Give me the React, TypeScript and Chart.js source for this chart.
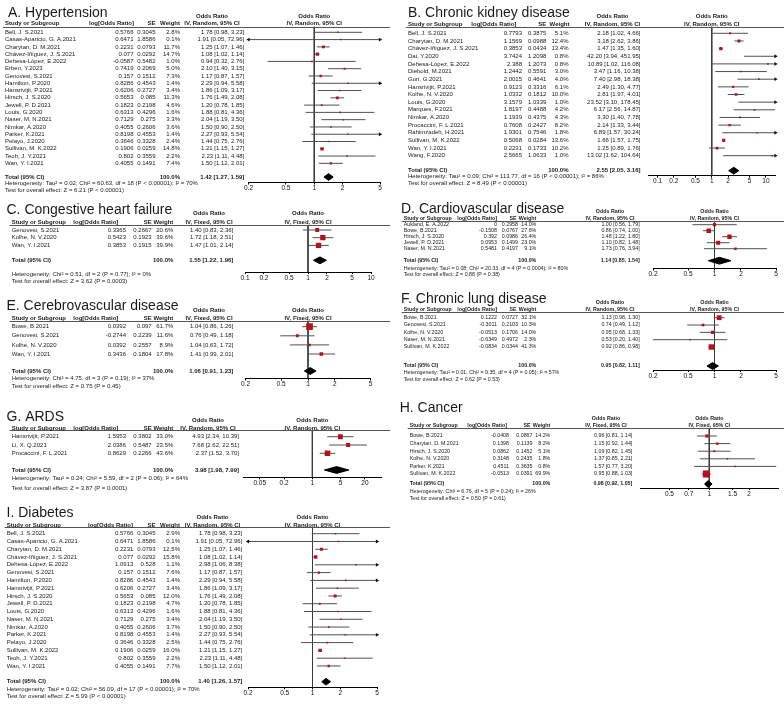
import React, { useEffect, useRef } from "react";
import { Chart, registerables } from "chart.js";
Chart.register(...registerables);

const FONT = '"Liberation Sans", Arial, Helvetica, sans-serif';
const RED = "#b3121a";
const AXH = 11;

// ---------------- A. Hypertension ----------------
const A_studies = ["Bell, J. S.2021", "Casas-Aparicio, G. A.2021", "Charytan, D. M.2021", "Chávez-Iñiguez, J. S.2021", "Dehesa-López, E.2022", "Erben, Y.2023", "Genovesi, S.2021", "Hamilton, P.2020", "Hansrivijit, P.2021", "Hirsch, J. S.2020", "Jewell, P. D.2021", "Louis, G.2020", "Naser, M. N.2021", "Nimkar, A.2020", "Parker, K.2021", "Pelayo, J.2020", "Sullivan, M. K.2022", "Teoh, J. Y.2021", "Wan, Y. I.2021"];
const A_logOR = [0.5766, 0.6471, 0.2231, 0.077, -0.0587, 0.7419, 0.157, 0.8286, 0.6206, 0.5653, 0.1823, 0.6313, 0.7129, 0.4055, 0.8198, 0.3646, 0.1906, 0.802, 0.4055];
const A_se = [0.3045, 1.8586, 0.0793, 0.0292, 0.5482, 0.2069, 0.1512, 0.4543, 0.2727, 0.085, 0.2198, 0.4296, 0.275, 0.2606, 0.4553, 0.3328, 0.0259, 0.3559, 0.1491];
const A_weight = [2.8, 0.1, 11.7, 14.7, 1.0, 5.0, 7.3, 1.4, 3.4, 11.3, 4.6, 1.6, 3.3, 3.6, 1.4, 2.4, 14.8, 2.2, 7.4];
const A_or = [1.78, 1.91, 1.25, 1.08, 0.94, 2.10, 1.17, 2.29, 1.86, 1.76, 1.20, 1.88, 2.04, 1.50, 2.27, 1.44, 1.21, 2.23, 1.50];
const A_lo = [0.98, 0.05, 1.07, 1.02, 0.32, 1.40, 0.87, 0.94, 1.09, 1.49, 0.78, 0.81, 1.19, 0.90, 0.93, 0.75, 1.15, 1.11, 1.12];
const A_hi = [3.23, 72.96, 1.46, 1.14, 2.76, 3.15, 1.57, 5.58, 3.17, 2.08, 1.85, 4.36, 3.50, 2.50, 5.54, 2.76, 1.27, 4.48, 2.01];
const A_total = [1.42, 1.27, 1.59];
const A_ticks = [0.2, 0.5, 1, 2, 5];
const A_het = "Heterogeneity: Tau² = 0.02; Chi² = 60.63, df = 18 (P < 0.00001); I² = 70%";
const A_test = "Test for overall effect: Z = 6.21 (P < 0.00001)";

// ---------------- B. Chronic kidney disease ----------------
const B_studies = ["Bell, J. S.2021", "Charytan, D. M.2021", "Chávez-Iñiguez, J. S.2021", "Dai, Y.2020", "Dehesa-López, E.2022", "Diebold, M.2021", "Gori, G.2021", "Hansrivijit, P.2021", "Kolhe, N. V.2020", "Louis, G.2020", "Marques, F.2021", "Nimkar, A.2020", "Procaccini, F. L.2021", "Rahimzadeh, H.2021", "Sullivan, M. K.2022", "Wan, Y. I.2021", "Wang, F.2020"];
const B_logOR = [0.7793, 1.1569, 0.3853, 3.7424, 2.388, 1.2442, 2.0015, 0.9123, 1.0332, 3.1579, 1.8197, 1.1939, 0.7608, 1.9301, 0.5068, 0.2231, 2.5665];
const B_se = [0.3875, 0.0988, 0.0434, 1.2098, 1.2073, 0.5591, 0.4641, 0.3316, 0.1812, 1.0339, 0.4488, 0.4375, 0.2427, 0.7546, 0.0284, 0.1733, 1.0633];
const B_weight = [5.1, 12.4, 13.4, 0.8, 0.8, 3.0, 4.0, 6.1, 10.0, 1.0, 4.2, 4.3, 8.2, 1.8, 13.6, 10.2, 1.0];
const B_or = [2.18, 3.18, 1.47, 42.20, 10.89, 3.47, 7.40, 2.49, 2.81, 23.52, 6.17, 3.30, 2.14, 6.89, 1.66, 1.25, 13.02];
const B_lo = [1.02, 2.62, 1.35, 3.94, 1.02, 1.16, 2.98, 1.30, 1.97, 3.10, 2.56, 1.40, 1.33, 1.57, 1.57, 0.89, 1.62];
const B_hi = [4.66, 3.86, 1.60, 451.95, 116.08, 10.38, 18.38, 4.77, 4.01, 178.45, 14.87, 7.78, 3.44, 30.24, 1.75, 1.76, 104.64];
const B_total = [2.55, 2.05, 3.16];
const B_ticks = [0.1, 0.2, 0.5, 1, 2, 5, 10];
const B_het = "Heterogeneity: Tau² = 0.09; Chi² = 113.77, df = 16 (P < 0.00001); I² = 86%";
const B_test = "Test for overall effect: Z = 8.49 (P < 0.00001)";

// ---------------- C. Congestive heart failure ----------------
const C_studies = ["Genovesi, S.2021", "Kolhe, N. V.2020", "Wan, Y. I.2021"];
const C_logOR = [0.3365, 0.5423, 0.3853];
const C_se = [0.2667, 0.1923, 0.1915];
const C_weight = [20.6, 39.6, 39.9];
const C_or = [1.40, 1.72, 1.47];
const C_lo = [0.83, 1.18, 1.01];
const C_hi = [2.36, 2.51, 2.14];
const C_total = [1.55, 1.22, 1.96];
const C_ticks = [0.1, 0.2, 0.5, 1, 2, 5, 10];
const C_het = "Heterogeneity: Chi² = 0.51, df = 2 (P = 0.77); I² = 0%";
const C_test = "Test for overall effect: Z = 3.62 (P = 0.0003)";

// ---------------- D. Cardiovascular disease ----------------
const D_studies = ["Aukland, E. A.2022", "Bowe, B.2021", "Hirsch, J. S.2020", "Jewell, P. D.2021", "Naser, M. N.2021"];
const D_logOR = [0, -0.1508, 0.392, 0.0953, 0.5481];
const D_se = [0.2958, 0.0767, 0.0986, 0.1499, 0.4197];
const D_weight = [14.0, 27.6, 26.4, 23.0, 9.1];
const D_or = [1.00, 0.86, 1.48, 1.10, 1.73];
const D_lo = [0.56, 0.74, 1.22, 0.82, 0.76];
const D_hi = [1.79, 1.00, 1.80, 1.48, 3.94];
const D_total = [1.14, 0.85, 1.54];
const D_ticks = [0.2, 0.5, 1, 2, 5];
const D_het = "Heterogeneity: Tau² = 0.08; Chi² = 20.33, df = 4 (P = 0.0004); I² = 80%";
const D_test = "Test for overall effect: Z = 0.88 (P = 0.38)";

// ---------------- E. Cerebrovascular disease ----------------
const E_studies = ["Bowe, B.2021", "Genovesi, S.2021", "Kolhe, N. V.2020", "Wan, Y. I.2021"];
const E_logOR = [0.0392, -0.2744, 0.0392, 0.3436];
const E_se = [0.097, 0.2239, 0.2557, 0.1804];
const E_weight = [61.7, 11.6, 8.9, 17.8];
const E_or = [1.04, 0.76, 1.04, 1.41];
const E_lo = [0.86, 0.49, 0.63, 0.99];
const E_hi = [1.26, 1.18, 1.72, 2.01];
const E_total = [1.06, 0.91, 1.23];
const E_ticks = [0.2, 0.5, 1, 2, 5];
const E_het = "Heterogeneity: Chi² = 4.75, df = 3 (P = 0.19); I² = 37%";
const E_test = "Test for overall effect: Z = 0.75 (P = 0.45)";

// ---------------- F. Chronic lung disease ----------------
const F_studies = ["Bowe, B.2021", "Genovesi, S.2021", "Kolhe, N. V.2020", "Naser, M. N.2021", "Sullivan, M. K.2022"];
const F_logOR = [0.1222, -0.3011, -0.0513, -0.6349, -0.0834];
const F_se = [0.0727, 0.2103, 0.1706, 0.4972, 0.0344];
const F_weight = [32.1, 10.3, 14.0, 2.3, 41.3];
const F_or = [1.13, 0.74, 0.95, 0.53, 0.92];
const F_lo = [0.98, 0.49, 0.68, 0.20, 0.86];
const F_hi = [1.30, 1.12, 1.33, 1.40, 0.98];
const F_total = [0.95, 0.82, 1.11];
const F_ticks = [0.2, 0.5, 1, 2, 5];
const F_het = "Heterogeneity: Tau² = 0.01; Chi² = 9.35, df = 4 (P = 0.05); I² = 57%";
const F_test = "Test for overall effect: Z = 0.62 (P = 0.53)";

// ---------------- G. ARDS ----------------
const G_studies = ["Hansrivijit, P.2021", "Li, X. Q.2021", "Procaccini, F. L.2021"];
const G_logOR = [1.5953, 2.0386, 0.8629];
const G_se = [0.3802, 0.5487, 0.2266];
const G_weight = [33.0, 23.5, 43.6];
const G_or = [4.93, 7.68, 2.37];
const G_lo = [2.34, 2.62, 1.52];
const G_hi = [10.39, 22.51, 3.70];
const G_total = [3.98, 1.98, 7.99];
const G_ticks = [0.05, 0.2, 1, 5, 20];
const G_het = "Heterogeneity: Tau² = 0.24; Chi² = 5.59, df = 2 (P = 0.06); I² = 64%";
const G_test = "Test for overall effect: Z = 3.87 (P = 0.0001)";

// ---------------- H. Cancer ----------------
const H_studies = ["Bowe, B.2021", "Charytan, D. M.2021", "Hirsch, J. S.2020", "Kolhe, N. V.2020", "Parker, K.2021", "Sullivan, M. K.2022"];
const H_logOR = [-0.0408, 0.1398, 0.0862, 0.3148, 0.4511, -0.0513];
const H_se = [0.0867, 0.1139, 0.1452, 0.2435, 0.3635, 0.0391];
const H_weight = [14.2, 8.2, 5.1, 1.8, 0.8, 69.9];
const H_or = [0.96, 1.15, 1.09, 1.37, 1.57, 0.95];
const H_lo = [0.81, 0.92, 0.82, 0.85, 0.77, 0.88];
const H_hi = [1.14, 1.44, 1.45, 2.21, 3.20, 1.03];
const H_total = [0.98, 0.92, 1.05];
const H_ticks = [0.5, 0.7, 1, 1.5, 2];
const H_het = "Heterogeneity: Chi² = 6.76, df = 5 (P = 0.24); I² = 26%";
const H_test = "Test for overall effect: Z = 0.50 (P = 0.61)";

// ---------------- I. Diabetes ----------------
const I_studies = ["Bell, J. S.2021", "Casas-Aparicio, G. A.2021", "Charytan, D. M.2021", "Chávez-Iñiguez, J. S.2021", "Dehesa-López, E.2022", "Genovesi, S.2021", "Hamilton, P.2020", "Hansrivijit, P.2021", "Hirsch, J. S.2020", "Jewell, P. D.2021", "Louis, G.2020", "Naser, M. N.2021", "Nimkar, A.2020", "Parker, K.2021", "Pelayo, J.2020", "Sullivan, M. K.2022", "Teoh, J. Y.2021", "Wan, Y. I.2021"];
const I_logOR = [0.5766, 0.6471, 0.2231, 0.077, 1.0913, 0.157, 0.8286, 0.6206, 0.5653, 0.1823, 0.6313, 0.7129, 0.4055, 0.8198, 0.3646, 0.1906, 0.802, 0.4055];
const I_se = [0.3045, 1.8586, 0.0793, 0.0292, 0.528, 0.1512, 0.4543, 0.2727, 0.085, 0.2198, 0.4296, 0.275, 0.2606, 0.4553, 0.3328, 0.0259, 0.3559, 0.1491];
const I_weight = [2.9, 0.1, 12.5, 15.8, 1.1, 7.6, 1.4, 3.4, 12.0, 4.7, 1.6, 3.4, 3.7, 1.4, 2.5, 16.0, 2.2, 7.7];
const I_or = [1.78, 1.91, 1.25, 1.08, 2.98, 1.17, 2.29, 1.86, 1.76, 1.20, 1.88, 2.04, 1.50, 2.27, 1.44, 1.21, 2.23, 1.50];
const I_lo = [0.98, 0.05, 1.07, 1.02, 1.06, 0.87, 0.94, 1.09, 1.49, 0.78, 0.81, 1.19, 0.90, 0.93, 0.75, 1.15, 1.11, 1.12];
const I_hi = [3.23, 72.96, 1.46, 1.14, 8.38, 1.57, 5.58, 3.17, 2.08, 1.85, 4.36, 3.50, 2.50, 5.54, 2.76, 1.27, 4.48, 2.01];
const I_total = [1.40, 1.26, 1.57];
const I_ticks = [0.2, 0.5, 1, 2, 5];
const I_het = "Heterogeneity: Tau² = 0.02; Chi² = 56.09, df = 17 (P < 0.00001); I² = 70%";
const I_test = "Test for overall effect: Z = 5.99 (P < 0.00001)";

// ---------------- layout (page pixel positions) ----------------
type Lay = {
  x0: number; W: number; fs: number; titleX: number; titleBase: number; hdr1Y: number; hdr2Y: number; lineY: number;
  studyX: number; logHR: number; logR: number; seHR: number; seR: number; wHR: number; wR: number; orHC: number; orR: number;
  plotL: number; plotR: number; xmin: number; xmax: number;
  firstY: number; rowH: number; totalY: number; axisY: number; hetY: number; testY: number;
};

const LAY_A: Lay = { x0: 0, W: 390, fs: 6, titleX: 8, titleBase: 17.3, hdr1Y: 16.7, hdr2Y: 23.8, lineY: 26.5, studyX: 5, logHR: 134, logR: 133.5, seHR: 155.5, seR: 155.5, wHR: 180, wR: 180, orHC: 212, orR: 244.3, plotL: 248.5, plotR: 380, xmin: 0.2, xmax: 5, firstY: 32.3, rowH: 7.28, totalY: 177, axisY: 182.5, hetY: 183.7, testY: 190.5 };
const LAY_B: Lay = { x0: 393, W: 391, fs: 6, titleX: 408, titleBase: 17.3, hdr1Y: 16.7, hdr2Y: 24.3, lineY: 26.5, studyX: 408, logHR: 516.3, logR: 522, seHR: 546.3, seR: 546.3, wHR: 569.5, wR: 568.5, orHC: 612.5, orR: 640.5, plotL: 648, plotR: 775.5, xmin: 1 / 15, xmax: 15, firstY: 33.3, rowH: 7.65, totalY: 170.7, axisY: 175.7, hetY: 176.7, testY: 183 };
const LAY_C: Lay = { x0: 0, W: 390, fs: 6, titleX: 6.5, titleBase: 213.5, hdr1Y: 213.3, hdr2Y: 222.5, lineY: 224.8, studyX: 11.7, logHR: 118.3, logR: 126, seHR: 151.7, seR: 151.7, wHR: 173.3, wR: 173.3, orHC: 209, orR: 233.3, plotL: 245, plotR: 371, xmin: 0.1, xmax: 10, firstY: 230, rowH: 7.7, totalY: 260.3, axisY: 272, hetY: 274, testY: 281.7 };
const LAY_D: Lay = { x0: 393, W: 391, fs: 5.3, titleX: 401, titleBase: 212.7, hdr1Y: 211.7, hdr2Y: 219, lineY: 221, studyX: 403.7, logHR: 497, logR: 497, seHR: 516.5, seR: 518, wHR: 536.3, wR: 536.3, orHC: 610, orR: 639.7, plotL: 653, plotR: 776, xmin: 0.2, xmax: 5, firstY: 224.7, rowH: 6.0, totalY: 260.7, axisY: 268.5, hetY: 268.3, testY: 274.7 };
const LAY_E: Lay = { x0: 0, W: 390, fs: 6, titleX: 6.5, titleBase: 310, hdr1Y: 310.7, hdr2Y: 318.3, lineY: 320.5, studyX: 11.7, logHR: 118.3, logR: 126, seHR: 151.7, seR: 151.7, wHR: 173.3, wR: 173.3, orHC: 209, orR: 233.3, plotL: 245.5, plotR: 370.5, xmin: 0.2, xmax: 5, firstY: 326.7, rowH: 9.1, totalY: 371, axisY: 378.5, hetY: 378, testY: 386 };
const LAY_F: Lay = { x0: 393, W: 391, fs: 5.3, titleX: 401, titleBase: 303.3, hdr1Y: 302.7, hdr2Y: 310, lineY: 312, studyX: 403.7, logHR: 497, logR: 497, seHR: 516.5, seR: 518, wHR: 536.3, wR: 536.3, orHC: 610, orR: 639.7, plotL: 653, plotR: 776, xmin: 0.2, xmax: 5, firstY: 317.7, rowH: 7.33, totalY: 366, axisY: 370, hetY: 373, testY: 380 };
const LAY_G: Lay = { x0: 0, W: 390, fs: 6, titleX: 6.5, titleBase: 421, hdr1Y: 420.7, hdr2Y: 428.3, lineY: 430.3, studyX: 11.7, logHR: 118.3, logR: 126, seHR: 151.7, seR: 151.7, wHR: 173.3, wR: 173.3, orHC: 208, orR: 239, plotL: 243.7, plotR: 381, xmin: 0.02, xmax: 50, firstY: 436.7, rowH: 8.3, totalY: 470, axisY: 477.3, hetY: 478.3, testY: 488 };
const LAY_H: Lay = { x0: 393, W: 391, fs: 5.3, titleX: 399.7, titleBase: 411.7, hdr1Y: 418.3, hdr2Y: 426, lineY: 428, studyX: 409.7, logHR: 507, logR: 509, seHR: 530.5, seR: 532.5, wHR: 550.3, wR: 550.3, orHC: 606, orR: 632.3, plotL: 640, plotR: 778, xmin: 0.31, xmax: 3.3, firstY: 436, rowH: 7.6, totalY: 484, axisY: 488, hetY: 492, testY: 499 };
const LAY_I: Lay = { x0: 0, W: 390, fs: 6, titleX: 6.5, titleBase: 516.7, hdr1Y: 517.7, hdr2Y: 525, lineY: 527, studyX: 6.7, logHR: 133, logR: 133.3, seHR: 155.5, seR: 155.5, wHR: 180, wR: 180, orHC: 212.5, orR: 242.3, plotL: 248, plotR: 377, xmin: 0.2, xmax: 5, firstY: 533.7, rowH: 7.78, totalY: 681.7, axisY: 687.3, hetY: 689.3, testY: 696.3 };

type Panel = {
  title: string; method: string; studies: string[]; logOR: number[]; se: number[]; weight: number[];
  or: number[]; lo: number[]; hi: number[]; total: number[]; ticks: number[]; het: string; test: string; lay: Lay;
};

const RND = "IV, Random, 95% CI";
const FIX = "IV, Fixed, 95% CI";

const PANELS: Panel[] = [
  { title: "A. Hypertension", method: RND, studies: A_studies, logOR: A_logOR, se: A_se, weight: A_weight, or: A_or, lo: A_lo, hi: A_hi, total: A_total, ticks: A_ticks, het: A_het, test: A_test, lay: LAY_A },
  { title: "B. Chronic kidney disease", method: RND, studies: B_studies, logOR: B_logOR, se: B_se, weight: B_weight, or: B_or, lo: B_lo, hi: B_hi, total: B_total, ticks: B_ticks, het: B_het, test: B_test, lay: LAY_B },
  { title: "C. Congestive heart failure", method: FIX, studies: C_studies, logOR: C_logOR, se: C_se, weight: C_weight, or: C_or, lo: C_lo, hi: C_hi, total: C_total, ticks: C_ticks, het: C_het, test: C_test, lay: LAY_C },
  { title: "D. Cardiovascular disease", method: RND, studies: D_studies, logOR: D_logOR, se: D_se, weight: D_weight, or: D_or, lo: D_lo, hi: D_hi, total: D_total, ticks: D_ticks, het: D_het, test: D_test, lay: LAY_D },
  { title: "E. Cerebrovascular disease", method: FIX, studies: E_studies, logOR: E_logOR, se: E_se, weight: E_weight, or: E_or, lo: E_lo, hi: E_hi, total: E_total, ticks: E_ticks, het: E_het, test: E_test, lay: LAY_E },
  { title: "F. Chronic lung disease", method: RND, studies: F_studies, logOR: F_logOR, se: F_se, weight: F_weight, or: F_or, lo: F_lo, hi: F_hi, total: F_total, ticks: F_ticks, het: F_het, test: F_test, lay: LAY_F },
  { title: "G. ARDS", method: RND, studies: G_studies, logOR: G_logOR, se: G_se, weight: G_weight, or: G_or, lo: G_lo, hi: G_hi, total: G_total, ticks: G_ticks, het: G_het, test: G_test, lay: LAY_G },
  { title: "H. Cancer", method: FIX, studies: H_studies, logOR: H_logOR, se: H_se, weight: H_weight, or: H_or, lo: H_lo, hi: H_hi, total: H_total, ticks: H_ticks, het: H_het, test: H_test, lay: LAY_H },
  { title: "I. Diabetes", method: RND, studies: I_studies, logOR: I_logOR, se: I_se, weight: I_weight, or: I_or, lo: I_lo, hi: I_hi, total: I_total, ticks: I_ticks, het: I_het, test: I_test, lay: LAY_I },
];

const orTxt = (o: number, l: number, h: number) => `${o.toFixed(2)} [${l.toFixed(2)}, ${h.toFixed(2)}]`;

function ForestPanel({ p }: { p: Panel }) {
  const ref = useRef<HTMLCanvasElement | null>(null);
  const L = p.lay;
  const top = Math.floor(L.titleBase - 14);
  const bottom = Math.ceil(Math.max(L.testY + 5, L.axisY + AXH + 1));
  const H = bottom - top;
  const W = L.W;

  useEffect(() => {
    const canvas = ref.current;
    if (!canvas) return;
    const n = p.studies.length;
    const yMin = (L.lineY - L.firstY) / L.rowH;
    const yMax = (L.axisY - L.firstY) / L.rowH;
    const T = (L.totalY - L.firstY) / L.rowH;
    const { xmin, xmax } = L;
    const [to, tl, th] = p.total;

    const datasets: any[] = [];
    datasets.push({ data: [{ x: 1, y: yMin }, { x: 1, y: yMax }], showLine: true, borderColor: "#3a3a3a", borderWidth: 1, pointRadius: 0, order: 10 });
    for (let i = 0; i < n; i++) {
      datasets.push({
        data: [{ x: Math.max(p.lo[i], xmin), y: i }, { x: Math.min(p.hi[i], xmax), y: i }],
        showLine: true, borderColor: "#505050", borderWidth: 1, pointRadius: 0, order: 6,
      });
    }
    const arrows: { x: number; y: number; r: number }[] = [];
    for (let i = 0; i < n; i++) {
      if (p.lo[i] < xmin) arrows.push({ x: xmin, y: i, r: -90 });
      if (p.hi[i] > xmax) arrows.push({ x: xmax, y: i, r: 90 });
    }
    if (arrows.length) {
      datasets.push({
        data: arrows.map((a) => ({ x: a.x, y: a.y })), pointStyle: "triangle", pointRotation: arrows.map((a) => a.r),
        pointRadius: 2.2, pointBackgroundColor: "#111", pointBorderColor: "#111", pointBorderWidth: 0, clip: false, order: 4,
      });
    }
    datasets.push({
      data: p.or.map((v, i) => ({ x: v, y: i })), pointStyle: "rect",
      pointRadius: p.weight.map((w) => Math.max(1.1, 0.6 * Math.sqrt(w))),
      pointBackgroundColor: RED, pointBorderColor: RED, pointBorderWidth: 0, order: 2,
    });
    const dh = 3.4 / L.rowH;
    datasets.push({ data: [{ x: tl, y: T }, { x: to, y: T - dh }, { x: th, y: T }], showLine: true, borderColor: "#000", borderWidth: 1, pointRadius: 0, fill: "+1", backgroundColor: "#000", order: 1 });
    datasets.push({ data: [{ x: tl, y: T }, { x: to, y: T + dh }, { x: th, y: T }], showLine: true, borderColor: "#000", borderWidth: 1, pointRadius: 0, fill: false, order: 1 });

    const fs = L.fs;
    const textPlugin = {
      id: "forestText",
      afterDraw(chart: any) {
        const ctx = chart.ctx as CanvasRenderingContext2D;
        const xs = chart.scales.x, ys = chart.scales.y;
        const X = (v: number) => v - L.x0;
        const Y = (v: number) => v - top;
        ctx.save();
        ctx.fillStyle = "#1a1a1a";
        ctx.textAlign = "left";
        ctx.textBaseline = "alphabetic";
        ctx.font = `14px ${FONT}`;
        ctx.fillText(p.title, X(L.titleX), Y(L.titleBase));
        ctx.strokeStyle = "#555";
        ctx.lineWidth = 1;
        const ly = Math.round(Y(L.lineY)) + 0.5;
        ctx.beginPath();
        ctx.moveTo(X(L.studyX) - 2, ly);
        ctx.lineTo(W, ly);
        ctx.stroke();

        ctx.textBaseline = "middle";
        ctx.font = `bold ${fs}px ${FONT}`;
        const c1 = xs.getPixelForValue(1);
        ctx.textAlign = "center";
        ctx.fillText("Odds Ratio", X(L.orHC), Y(L.hdr1Y));
        ctx.fillText("Odds Ratio", c1, Y(L.hdr1Y));
        ctx.fillText(p.method, X(L.orHC), Y(L.hdr2Y));
        ctx.fillText(p.method, c1, Y(L.hdr2Y));
        ctx.textAlign = "left";
        ctx.fillText("Study or Subgroup", X(L.studyX), Y(L.hdr2Y));
        ctx.textAlign = "right";
        ctx.fillText("log[Odds Ratio]", X(L.logHR), Y(L.hdr2Y));
        ctx.fillText("SE", X(L.seHR), Y(L.hdr2Y));
        ctx.fillText("Weight", X(L.wHR), Y(L.hdr2Y));

        ctx.font = `${fs}px ${FONT}`;
        for (let i = 0; i < n; i++) {
          const y = ys.getPixelForValue(i);
          ctx.textAlign = "left";
          ctx.fillText(p.studies[i], X(L.studyX), y);
          ctx.textAlign = "right";
          ctx.fillText(String(p.logOR[i]), X(L.logR), y);
          ctx.fillText(String(p.se[i]), X(L.seR), y);
          ctx.fillText(p.weight[i].toFixed(1) + "%", X(L.wR), y);
          ctx.fillText(orTxt(p.or[i], p.lo[i], p.hi[i]), X(L.orR), y);
        }
        const ty = ys.getPixelForValue(T);
        ctx.font = `bold ${fs}px ${FONT}`;
        ctx.textAlign = "left";
        ctx.fillText("Total (95% CI)", X(L.studyX), ty);
        ctx.textAlign = "right";
        ctx.fillText("100.0%", X(L.wR), ty);
        ctx.fillText(orTxt(to, tl, th), X(L.orR), ty);
        ctx.font = `${fs}px ${FONT}`;
        ctx.textAlign = "left";
        ctx.fillText(p.het, X(L.studyX), Y(L.hetY));
        ctx.fillText(p.test, X(L.studyX), Y(L.testY));
        ctx.restore();
      },
    };

    const chart = new Chart(canvas, {
      type: "scatter",
      data: { datasets },
      options: {
        responsive: false,
        animation: false,
        devicePixelRatio: 1,
        events: [],
        layout: {
          padding: {
            left: L.plotL - L.x0,
            right: L.x0 + W - L.plotR,
            top: L.lineY - top,
            bottom: bottom - L.axisY - AXH,
          },
        },
        plugins: { legend: { display: false }, tooltip: { enabled: false }, title: { display: false } },
        scales: {
          x: {
            type: "logarithmic",
            min: xmin,
            max: xmax,
            position: "bottom",
            afterBuildTicks: (s: any) => { s.ticks = p.ticks.map((v) => ({ value: v })); },
            afterFit: (s: any) => { s.height = AXH; },
            grid: { drawOnChartArea: false, drawTicks: true, tickLength: 2, color: "#000", lineWidth: 1 },
            border: { display: true, color: "#000", width: 1 },
            ticks: {
              autoSkip: false, maxRotation: 0, minRotation: 0, padding: 0, color: "#111",
              font: { size: 6.5, family: FONT },
              callback: (v: any) => String(v),
            },
          },
          y: { type: "linear", reverse: true, min: yMin, max: yMax, display: false },
        },
      } as any,
      plugins: [textPlugin],
    });
    return () => chart.destroy();
  }, []);

  return (
    <canvas
      ref={ref}
      width={W}
      height={H}
      style={{ position: "absolute", left: L.x0, top, width: W, height: H }}
    />
  );
}

export default function App() {
  return (
    <div style={{ position: "absolute", left: 0, top: 0, width: 784, height: 707, background: "#fff", overflow: "hidden" }}>
      {PANELS.map((p, i) => (
        <ForestPanel key={i} p={p} />
      ))}
    </div>
  );
}
